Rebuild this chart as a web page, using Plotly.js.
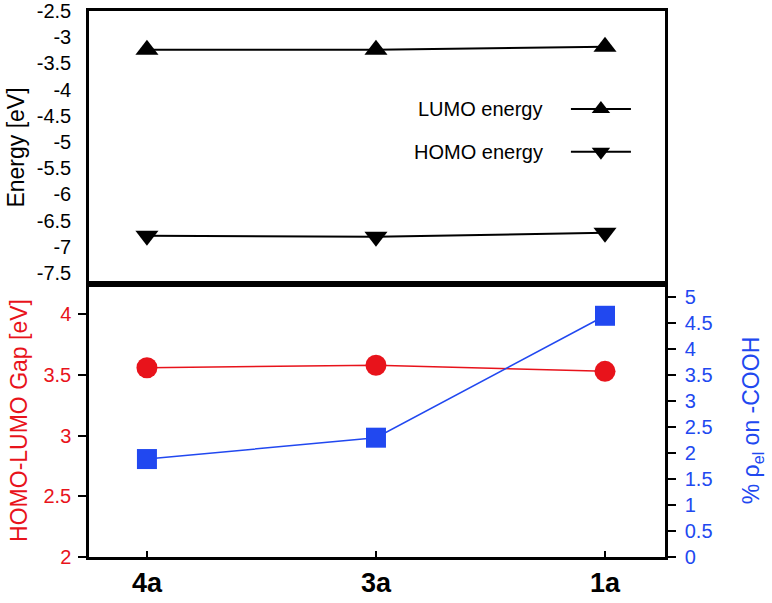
<!DOCTYPE html>
<html><head><meta charset="utf-8">
<script src="https://cdn.plot.ly/plotly-3.0.1.min.js"></script>
<style>body{margin:0;background:#fff}#c{width:772px;height:603px}</style>
</head><body><div id="c"></div>
<script>
const categories = ['4a', '3a', '1a'];
const lumo = [-3.24, -3.24, -3.18];
const homo = [-6.79, -6.81, -6.73];
const gap = [3.56, 3.58, 3.53];
const rhoCOOH = [1.88, 2.29, 4.63];
const energyTicks = [-2.5, -3, -3.5, -4, -4.5, -5, -5.5, -6, -6.5, -7, -7.5];
const gapTicks = [2, 2.5, 3, 3.5, 4];
const rhoTicks = [0, 0.5, 1, 1.5, 2, 2.5, 3, 3.5, 4, 4.5, 5];

const xs = categories.map((c, i) => i);
const RED = '#e8131b', BLUE = '#2148f0';
const FONT = 'Liberation Sans, Arial, sans-serif';

const traces = [
  {x: xs, y: lumo, xaxis: 'x', yaxis: 'y', mode: 'lines+markers', name: 'LUMO',
   line: {color: '#000', width: 2}, marker: {symbol: 'triangle-up', size: 20, color: '#000'},
   showlegend: true, legend: 'legend'},
  {x: xs, y: homo, xaxis: 'x', yaxis: 'y', mode: 'lines+markers', name: 'HOMO',
   line: {color: '#000', width: 2}, marker: {symbol: 'triangle-down', size: 20, color: '#000'},
   showlegend: true, legend: 'legend2'},
  {x: xs, y: gap, xaxis: 'x2', yaxis: 'y2', mode: 'lines+markers', showlegend: false,
   line: {color: RED, width: 1.5}, marker: {symbol: 'circle', size: 21, color: RED}},
  {x: xs, y: rhoCOOH, xaxis: 'x2', yaxis: 'y3', mode: 'lines+markers', showlegend: false,
   line: {color: BLUE, width: 1.5}, marker: {symbol: 'square', size: 20, color: BLUE}}
];

const xr = [-0.253, 2.262];
const layout = {
  width: 772, height: 603,
  margin: {l: 89, r: 107, t: 11, b: 46},
  paper_bgcolor: '#fff', plot_bgcolor: '#fff',
  font: {family: FONT, size: 20, color: '#000'},
  xaxis: {domain: [0, 1], range: xr, anchor: 'y', showticklabels: false, ticks: '',
          showgrid: false, zeroline: false, showline: true, linecolor: '#000', linewidth: 2.5, mirror: true},
  yaxis: {domain: [0.5, 1], range: [-7.71, -2.5], anchor: 'x', tickvals: energyTicks, ticktext: energyTicks.map(String),
          ticks: '', ticklabelstandoff: 11, showgrid: false, zeroline: false, showline: true, linecolor: '#000', linewidth: 2.5, mirror: true,
          tickfont: {size: 20}, title: {text: 'Energy [eV]', font: {size: 23}, standoff: 6}},
  xaxis2: {domain: [0, 1], range: xr, anchor: 'y2', tickvals: xs, ticktext: categories,
           ticks: 'inside', ticklen: 6, tickwidth: 2, tickcolor: '#000',
           tickfont: {size: 27, family: FONT, weight: 'bold'},
           showgrid: false, zeroline: false, showline: true, linecolor: '#000', linewidth: 2.5, mirror: true},
  yaxis2: {domain: [0, 0.5], range: [2, 4.25], anchor: 'x2', tickvals: gapTicks, ticktext: gapTicks.map(String),
           ticks: 'outside', ticklen: 8, tickwidth: 2, tickcolor: '#000', ticklabelstandoff: 3,
           tickfont: {size: 20, color: RED}, showgrid: false, zeroline: false,
           showline: true, linecolor: '#000', linewidth: 2.5,
           title: {text: 'HOMO-LUMO Gap [eV]', font: {size: 23, color: RED}, standoff: 10}},
  yaxis3: {domain: [0, 0.5], range: [0, 5.24], anchor: 'x2', overlaying: 'y2', side: 'right',
           tickvals: rhoTicks, ticktext: rhoTicks.map(String),
           ticks: 'outside', ticklen: 8, tickwidth: 2, tickcolor: '#000', ticklabelstandoff: 5,
           tickfont: {size: 20, color: BLUE}, showgrid: false, zeroline: false,
           showline: true, linecolor: '#000', linewidth: 2.5,
           title: {text: '% ρ<sub>el</sub> on -COOH', font: {size: 23, color: BLUE}, standoff: 32}},
  legend: {x: 0.828, y: 0.8205, xanchor: 'left', yanchor: 'middle', bgcolor: 'rgba(0,0,0,0)',
           font: {size: 1, color: 'rgba(0,0,0,0)'}, itemwidth: 60},
  legend2: {x: 0.828, y: 0.742, xanchor: 'left', yanchor: 'middle', bgcolor: 'rgba(0,0,0,0)',
           font: {size: 1, color: 'rgba(0,0,0,0)'}, itemwidth: 60},
  annotations: [
    {xref: 'paper', yref: 'paper', x: 0.792, y: 0.8205, xanchor: 'right', yanchor: 'middle',
     text: 'LUMO energy', showarrow: false, font: {size: 20}},
    {xref: 'paper', yref: 'paper', x: 0.792, y: 0.742, xanchor: 'right', yanchor: 'middle',
     text: 'HOMO energy', showarrow: false, font: {size: 20}}
  ]
};
Plotly.newPlot('c', traces, layout, {displayModeBar: false});
</script></body></html>
